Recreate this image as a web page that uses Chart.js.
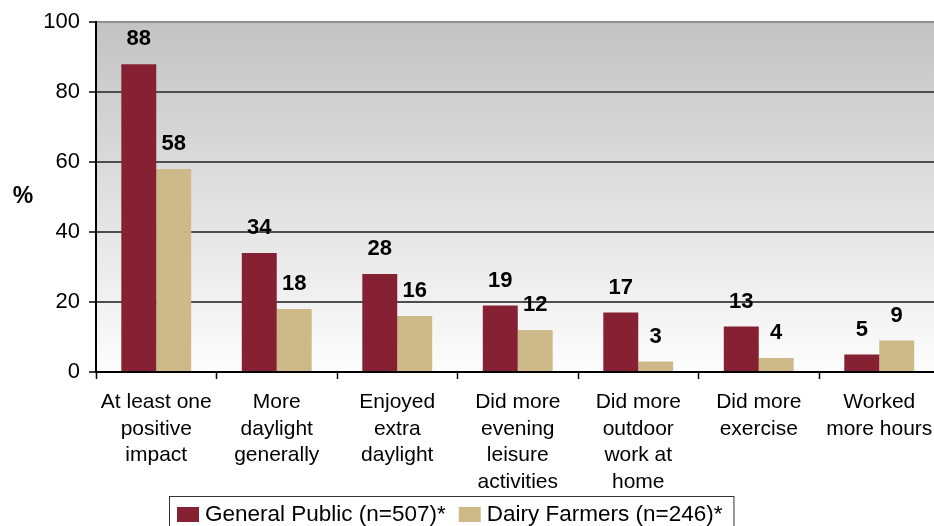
<!DOCTYPE html>
<html>
<head>
<meta charset="utf-8">
<script src="https://cdn.jsdelivr.net/npm/chart.js@4"></script>
<style>
  html, body { margin: 0; padding: 0; background: #ffffff; overflow: hidden; width: 934px; height: 526px; }
  #wrap { width: 945px; height: 540px; }
</style>
</head>
<body>
<div id="wrap"><canvas id="c" width="945" height="540"></canvas></div>
<script>
// Survey responses: share of respondents reporting each effect (%)
const categories = [
  ["At least one", "positive", "impact"],
  ["More", "daylight", "generally"],
  ["Enjoyed", "extra", "daylight"],
  ["Did more", "evening", "leisure", "activities"],
  ["Did more", "outdoor", "work at", "home"],
  ["Did more", "exercise"],
  ["Worked", "more hours"]
];
const generalPublic = [88, 34, 28, 19, 17, 13, 5];
const dairyFarmers  = [58, 18, 16, 12, 3, 4, 9];
const seriesNames = ["General Public (n=507)*", "Dairy Farmers (n=246)*"];
const yTicks = [0, 20, 40, 60, 80, 100];

const RED = "#862033";
const TAN = "#CDBA88";
const FONT = "'Liberation Sans', Arial, sans-serif";

// grey-to-white plot background
const plotBackground = {
  id: "plotBackground",
  beforeDraw(chart) {
    const { ctx, chartArea: a } = chart;
    const g = ctx.createLinearGradient(0, a.top, 0, a.bottom);
    g.addColorStop(0, "#c3c3c3");
    g.addColorStop(1, "#fdfdfd");
    ctx.save();
    ctx.fillStyle = g;
    ctx.fillRect(a.left, a.top, a.right - a.left, a.bottom - a.top);
    ctx.restore();
  }
};

// value labels above every bar, and the "%" axis caption
const valueLabels = {
  id: "valueLabels",
  afterDatasetsDraw(chart) {
    const { ctx } = chart;
    ctx.save();
    ctx.fillStyle = "#000";
    ctx.font = "bold 22px " + FONT;
    ctx.textAlign = "center";
    ctx.textBaseline = "middle";
    chart.data.datasets.forEach((ds, i) => {
      chart.getDatasetMeta(i).data.forEach((bar, j) => {
        ctx.fillText(String(ds.data[j]), bar.x, bar.y - 25);
      });
    });
    ctx.font = "bold 23px " + FONT;
    ctx.fillText("%", 23, 197);
    ctx.restore();
  }
};

// boxed legend under the axis labels
const boxedLegend = {
  id: "boxedLegend",
  afterDraw(chart) {
    const { ctx } = chart;
    ctx.save();
    ctx.font = "22.5px " + FONT;
    ctx.textBaseline = "middle";
    const items = chart.data.datasets.map(ds => ({ text: ds.label, color: ds.backgroundColor }));
    const sw = 22, sh = 15, gapSwatch = 6, gapItem = 13, padL = 8, padR = 11;
    let total = padL + padR;
    items.forEach((it, k) => {
      it.w = ctx.measureText(it.text).width;
      total += sw + gapSwatch + it.w + (k < items.length - 1 ? gapItem : 0);
    });
    const left = 169, top = 496, h = 40;
    ctx.strokeStyle = "#333";
    ctx.lineWidth = 1;
    ctx.strokeRect(left + 0.5, top + 0.5, total, h);
    let x = left + padL;
    const cy = 514.5;
    items.forEach(it => {
      ctx.fillStyle = it.color;
      ctx.fillRect(x, cy - sh / 2, sw, sh);
      x += sw + gapSwatch;
      ctx.fillStyle = "#000";
      ctx.fillText(it.text, x, cy);
      x += it.w + gapItem;
    });
    ctx.restore();
  }
};

new Chart(document.getElementById("c"), {
  type: "bar",
  data: {
    labels: categories,
    datasets: [
      { label: seriesNames[0], data: generalPublic, backgroundColor: RED },
      { label: seriesNames[1], data: dairyFarmers, backgroundColor: TAN }
    ]
  },
  options: {
    responsive: false,
    animation: false,
    layout: { padding: { top: 21, right: 5.5, bottom: 0, left: 0 } },
    plugins: { legend: { display: false }, tooltip: { enabled: false } },
    datasets: { bar: { categoryPercentage: 0.58, barPercentage: 1.0 } },
    scales: {
      x: {
        grid: {
          display: true,
          drawOnChartArea: false,
          drawTicks: true,
          tickLength: 7,
          tickColor: "#000",
          tickWidth: 1.5,
          offset: true
        },
        border: { display: true, color: "#000", width: 2 },
        ticks: {
          color: "#000",
          font: { family: FONT, size: 21, lineHeight: 1.27 },
          padding: 10,
          maxRotation: 0,
          autoSkip: false
        },
        afterFit(scale) { scale.height = 168; }
      },
      y: {
        min: 0,
        max: 100,
        afterBuildTicks(scale) { scale.ticks = yTicks.map(v => ({ value: v })); },
        grid: {
          color: ctx => (ctx.tick && ctx.tick.value === 100) ? "#8f8f8f" : "#4e4e4e",
          lineWidth: 2,
          tickLength: 7,
          tickColor: "#000",
          tickWidth: 1.5
        },
        border: { display: true, color: "#000", width: 2 },
        ticks: {
          color: "#000",
          font: { family: FONT, size: 22 },
          padding: 9
        },
        afterFit(scale) { scale.width = 96; }
      }
    }
  },
  plugins: [plotBackground, valueLabels, boxedLegend]
});
</script>
</body>
</html>
